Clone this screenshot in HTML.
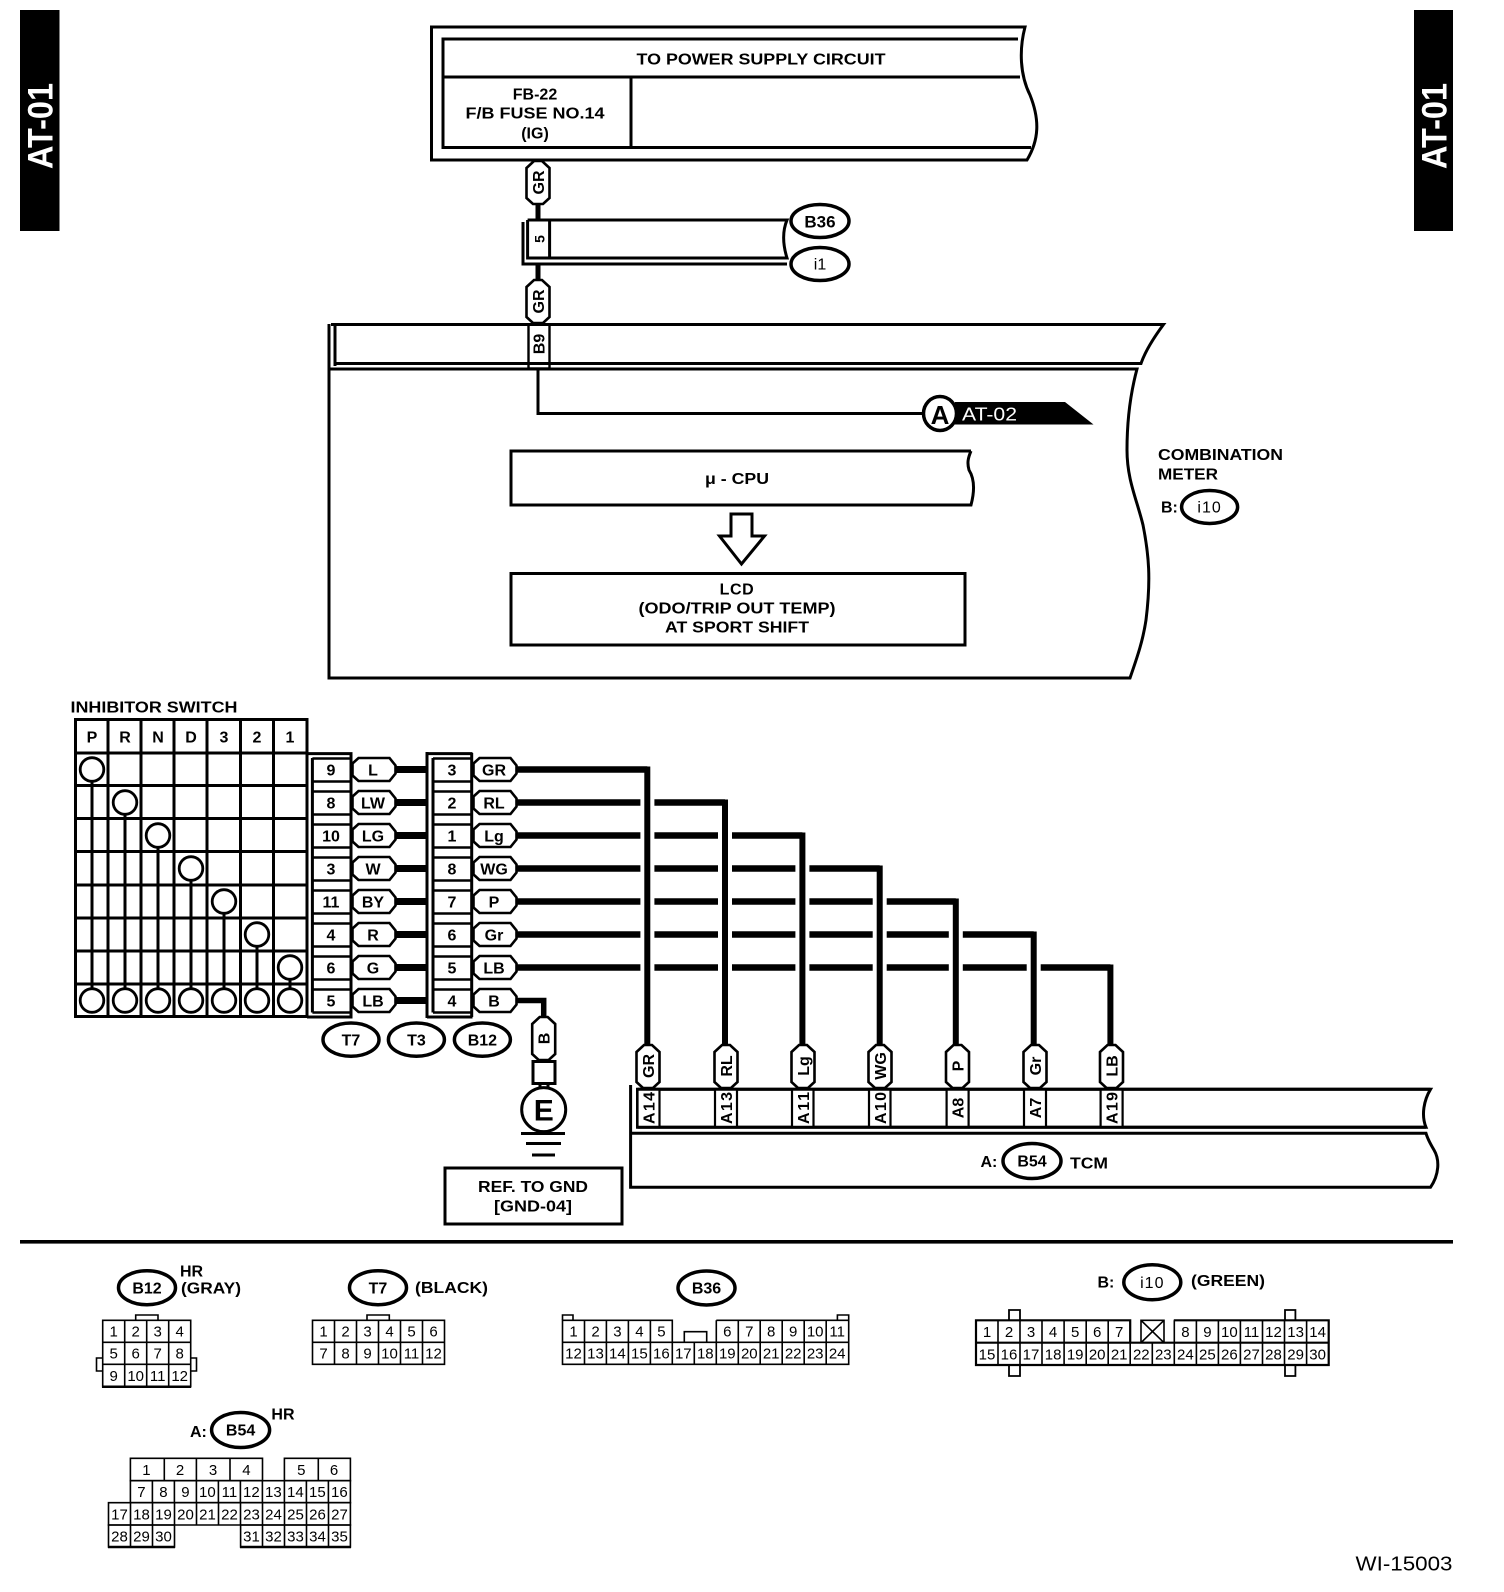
<!DOCTYPE html>
<html><head><meta charset="utf-8"><style>
html,body{margin:0;padding:0;background:#fff}
svg{display:block}
text{font-family:"Liberation Sans",sans-serif;font-weight:bold;font-size:16px;text-anchor:middle;dominant-baseline:central;fill:#000;translate:0 1px}
text[transform]{translate:1.5px 0}
.n{font-weight:normal;font-size:15px}
.l{text-anchor:start}
.w{fill:#fff}
.s{fill:none;stroke:#000;stroke-width:3}
.o{fill:#fff;stroke:#000;stroke-width:3}
ellipse.o{stroke-width:3.5}
.t{fill:none;stroke:#000;stroke-width:1.6}
.b{fill:none;stroke:#000;stroke-width:6.5}
</style></head><body>
<svg width="1504" height="1592" viewBox="0 0 1504 1592" xmlns="http://www.w3.org/2000/svg">
<defs>
<polygon id="ph" points="0,-6 6,-11.5 37,-11.5 43,-4 43,4 37,11.5 6,11.5 0,6" fill="#fff" stroke="#000" stroke-width="2.6"/>
<polygon id="pv" points="-4,0 4,0 11.500,7 11.500,37 5,43 -5,43 -11.500,37 -11.500,7" fill="#fff" stroke="#000" stroke-width="2.6"/>
<path id="pins" fill="none" stroke="#000" stroke-width="2.6" d="M0 758.5H39M0 781.5H39M0 791.5H39M0 814.5H39M0 824.5H39M0 847.5H39M0 857.5H39M0 880.5H39M0 890.5H39M0 913.5H39M0 923.5H39M0 946.5H39M0 956.5H39M0 979.5H39M0 989.5H39M0 1012.5H39"/>
<circle id="c" r="11.8" fill="#fff" stroke="#000" stroke-width="2.8"/>
</defs>

<!-- side bars -->
<rect x="20" y="10" width="39.5" height="221"/>
<rect x="1414" y="10" width="39" height="221"/>
<text class="w" x="39.5" y="126" transform="rotate(-90 39.5 126)" style="font-size:35px" textLength="86" lengthAdjust="spacingAndGlyphs">AT-01</text>
<text class="w" x="1433.5" y="126" transform="rotate(-90 1433.5 126)" style="font-size:35px" textLength="86" lengthAdjust="spacingAndGlyphs">AT-01</text>

<!-- power box -->
<path class="s" d="M431.5 27H1025C1019 50 1020 75 1030 95C1040 120 1039 140 1027 160H431.5Z"/>
<path class="s" d="M1018 39H443V147.5H1031M443 77H1020M631 77V147"/>
<text x="761" y="59" textLength="249" lengthAdjust="spacingAndGlyphs">TO POWER SUPPLY CIRCUIT</text>
<text x="535" y="94">FB-22</text>
<text x="535" y="113" textLength="139" lengthAdjust="spacingAndGlyphs">F/B FUSE NO.14</text>
<text x="535" y="133">(IG)</text>

<!-- GR / B36 -->
<path d="M538 204V220M538 264V281" fill="none" stroke="#000" stroke-width="5"/>
<use href="#pv" x="538" y="161"/>
<text x="538" y="182.500" transform="rotate(-90 538 182.500)">GR</text>
<path class="s" d="M527.600 220H787C782 232 783 245 787 258H527.600V220M549.600 220V258"/>
<path class="s" d="M523 222V264H787"/>
<text x="538" y="239" transform="rotate(-90 538 239)" style="font-size:14px">5</text>
<ellipse class="o" cx="820" cy="221" rx="29" ry="16.500"/>
<ellipse class="o" cx="820" cy="264" rx="29" ry="16.500"/>
<text x="820" y="221" style="font-size:17px">B36</text>
<text x="820" y="264" style="font-weight:normal">i1</text>
<use href="#pv" x="538" y="280"/>
<text x="538" y="301.500" transform="rotate(-90 538 301.500)">GR</text>

<!-- combination meter -->
<path class="s" d="M335 366V324.500H1163.500C1152 340 1145 352 1141 363.500H335"/>
<path class="s" d="M331 324.500H335"/>
<path class="s" d="M329 324V678H1130C1138 655 1143 640 1146 620C1151 580 1149 555 1143 525C1137 500 1127 480 1127 450C1127 420 1130 395 1137 369H329"/>
<rect x="528.500" y="324.500" width="21" height="44" fill="#fff" stroke="#000" stroke-width="2.400"/>
<path class="s" d="M335 363.500H1141M329 369H1137M331 324.500H1163"/>
<text x="538.500" y="344" transform="rotate(-90 538.500 344)">B9</text>
<path class="s" d="M538 369V413.500H926"/>
<polygon points="955,402 1065,402 1093.500,424.500 955,424.500"/>
<ellipse class="o" cx="940" cy="413.500" rx="16.500" ry="17"/>
<text x="940" y="414" style="font-size:26px">A</text>
<text class="w l" x="962" y="413.500" style="font-weight:normal;font-size:18px" textLength="55" lengthAdjust="spacingAndGlyphs">AT-02</text>
<path class="s" d="M971 451H511V505H971C975 490 974 478 969 470C967 463 968 458 971 451"/>
<text x="737" y="478.500" textLength="64" lengthAdjust="spacingAndGlyphs">μ - CPU</text>
<polygon class="o" points="731,514 752,514 752,536 764.500,536 741.500,564 719.500,536 731,536"/>
<rect class="s" x="511" y="573.500" width="454" height="71.500"/>
<text x="737" y="589" style="letter-spacing:.6px">LCD</text>
<text x="737" y="608" textLength="197" lengthAdjust="spacingAndGlyphs">(ODO/TRIP OUT TEMP)</text>
<text x="737" y="627" textLength="144" lengthAdjust="spacingAndGlyphs">AT SPORT SHIFT</text>
<text class="l" x="1158" y="454.500" textLength="125" lengthAdjust="spacingAndGlyphs">COMBINATION</text>
<text class="l" x="1158" y="474" textLength="60" lengthAdjust="spacingAndGlyphs">METER</text>
<text class="l" x="1161" y="507">B:</text>
<ellipse class="o" cx="1209.600" cy="507" rx="28" ry="16.500"/>
<text x="1209.600" y="507" style="font-weight:normal;letter-spacing:1px">i10</text>

<!-- inhibitor switch -->
<text class="l" x="70.500" y="707" textLength="167" lengthAdjust="spacingAndGlyphs">INHIBITOR SWITCH</text>
<path class="s" d="M75.500 719.500H307V1016.500H75.500ZM108 719.500V1016.500M141 719.500V1016.500M174 719.500V1016.500M207 719.500V1016.500M240.500 719.500V1016.500M273.500 719.500V1016.500M75.500 753H307M75.500 785.500H307M75.500 818.500H307M75.500 851.500H307M75.500 885H307M75.500 918H307M75.500 951H307M75.500 984H307"/>
<text x="92" y="737">P</text><text x="125" y="737">R</text><text x="158" y="737">N</text><text x="191" y="737">D</text><text x="224" y="737">3</text><text x="257" y="737">2</text><text x="290" y="737">1</text>
<path class="s" d="M92 769V1000M125 802V1000M158 835V1000M191 868V1000M224 901V1000M257 934V1000M290 967V1000"/>
<use href="#c" x="92" y="769.500"/><use href="#c" x="125" y="802.500"/><use href="#c" x="158" y="835.500"/><use href="#c" x="191" y="868.500"/><use href="#c" x="224" y="901.500"/><use href="#c" x="257" y="934.500"/><use href="#c" x="290" y="967.500"/>
<use href="#c" x="92" y="1000.500"/><use href="#c" x="125" y="1000.500"/><use href="#c" x="158" y="1000.500"/><use href="#c" x="191" y="1000.500"/><use href="#c" x="224" y="1000.500"/><use href="#c" x="257" y="1000.500"/><use href="#c" x="290" y="1000.500"/>

<!-- T7 / T3 blocks -->
<path class="s" d="M307 753.600H351V1017H307M312.400 758V1012.500M427 753.600H472.500M427 1017H472.500M427 752V1018M433 758V1012.500M471.700 753V1017"/>
<use href="#pins" x="312.400"/><use href="#pins" x="433"/>
<g fill="none" stroke="#000" stroke-width="7">
<path d="M395 769.500H428M395 802.500H428M395 835.500H428M395 868.500H428M395 901.500H428M395 934.500H428M395 967.500H428M395 1000.500H428"/>
</g>
<use href="#ph" x="352.500" y="769.500"/><use href="#ph" x="352.500" y="802.500"/><use href="#ph" x="352.500" y="835.500"/><use href="#ph" x="352.500" y="868.500"/><use href="#ph" x="352.500" y="901.500"/><use href="#ph" x="352.500" y="934.500"/><use href="#ph" x="352.500" y="967.500"/><use href="#ph" x="352.500" y="1000.500"/>
<use href="#ph" x="473.500" y="769.500"/><use href="#ph" x="473.500" y="802.500"/><use href="#ph" x="473.500" y="835.500"/><use href="#ph" x="473.500" y="868.500"/><use href="#ph" x="473.500" y="901.500"/><use href="#ph" x="473.500" y="934.500"/><use href="#ph" x="473.500" y="967.500"/><use href="#ph" x="473.500" y="1000.500"/>
<text x="331" y="770">9</text><text x="331" y="803">8</text><text x="331" y="836">10</text><text x="331" y="869">3</text><text x="331" y="902">11</text><text x="331" y="935">4</text><text x="331" y="968">6</text><text x="331" y="1001">5</text>
<text x="373" y="770">L</text><text x="373" y="803">LW</text><text x="373" y="836">LG</text><text x="373" y="869">W</text><text x="373" y="902">BY</text><text x="373" y="935">R</text><text x="373" y="968">G</text><text x="373" y="1001">LB</text>
<text x="452" y="770">3</text><text x="452" y="803">2</text><text x="452" y="836">1</text><text x="452" y="869">8</text><text x="452" y="902">7</text><text x="452" y="935">6</text><text x="452" y="968">5</text><text x="452" y="1001">4</text>
<text x="494" y="770">GR</text><text x="494" y="803">RL</text><text x="494" y="836">Lg</text><text x="494" y="869">WG</text><text x="494" y="902">P</text><text x="494" y="935">Gr</text><text x="494" y="968">LB</text><text x="494" y="1001">B</text>
<ellipse class="o" cx="351" cy="1039.600" rx="28" ry="16.600"/><text x="351" y="1040">T7</text>
<ellipse class="o" cx="416.400" cy="1039.600" rx="28" ry="16.600"/><text x="416.400" y="1040">T3</text>
<ellipse class="o" cx="482.400" cy="1039.600" rx="28" ry="16.600"/><text x="482.400" y="1040">B12</text>

<!-- ground -->
<path d="M516 1000.500H543.700V1018" fill="none" stroke="#000" stroke-width="5.500"/>
<use href="#pv" x="543.700" y="1017"/>
<text x="543.700" y="1038.500" transform="rotate(-90 543.700 1038.500)">B</text>
<rect class="s" x="533" y="1061.500" width="22" height="22"/>
<path class="s" d="M540 1084V1088M548 1084V1088"/>
<circle class="o" cx="543.700" cy="1109.600" r="22"/>
<text x="543.700" y="1110" style="font-size:30px">E</text>
<path class="s" d="M521 1133.500H565M526 1143.500H561M532 1155H555"/>
<rect class="s" x="445" y="1168" width="177" height="56"/>
<text x="533" y="1186.500" textLength="110" lengthAdjust="spacingAndGlyphs">REF. TO GND</text>
<text x="533" y="1206" textLength="78" lengthAdjust="spacingAndGlyphs">[GND-04]</text>

<!-- wires to TCM -->
<path class="b" d="M516 769.500H647.300M516 802.500H725M516 835.500H802.400M516 868.500H879.700M516 901.500H955.800M516 934.500H1033.700M516 967.500H1110.400"/>
<g fill="#fff">
<rect x="640.400" y="795" width="14" height="180"/>
<rect x="718" y="828" width="14" height="147"/>
<rect x="795.400" y="861" width="14" height="114"/>
<rect x="872.700" y="894" width="14" height="81"/>
<rect x="948.800" y="927" width="14" height="48"/>
<rect x="1026.700" y="960" width="14" height="15"/>
</g>
<g fill="none" stroke="#000" stroke-width="6">
<path d="M644 769.500H647.300V1046"/><path d="M722 802.500H725V1046"/><path d="M799 835.500H802.400V1046"/><path d="M876 868.500H879.700V1046"/><path d="M952 901.500H955.800V1046"/><path d="M1030 934.500H1033.700V1046"/><path d="M1106 967.500H1110.400V1046"/>
</g>

<!-- TCM -->
<path class="s" d="M630.600 1085V1187.300H1430.500C1439 1175 1440 1160 1434 1150C1431 1145 1428 1140 1426 1133.300H630.600"/>
<path class="s" d="M637.500 1089.300H1430.500C1424 1100 1421 1115 1426 1127.300H637.500Z"/>
<g fill="#fff" stroke="#000" stroke-width="2.200">
<rect x="637.500" y="1089.300" width="22" height="38"/><rect x="715" y="1089.300" width="22" height="38"/><rect x="792" y="1089.300" width="21.500" height="38"/><rect x="869" y="1089.300" width="21.500" height="38"/><rect x="946.600" y="1089.300" width="22" height="38"/><rect x="1024" y="1089.300" width="22" height="38"/><rect x="1100.600" y="1089.300" width="22" height="38"/>
</g>
<path class="s" d="M637.500 1089.300H1430.500M637.500 1127.300H1426"/>
<use href="#pv" x="648" y="1045"/><use href="#pv" x="726" y="1045"/><use href="#pv" x="803" y="1045"/><use href="#pv" x="880" y="1045"/><use href="#pv" x="957.500" y="1045"/><use href="#pv" x="1035" y="1045"/><use href="#pv" x="1111.500" y="1045"/>
<text x="648" y="1066" transform="rotate(-90 648 1066)">GR</text>
<text x="726" y="1066" transform="rotate(-90 726 1066)">RL</text>
<text x="803" y="1066" transform="rotate(-90 803 1066)">Lg</text>
<text x="880" y="1066" transform="rotate(-90 880 1066)">WG</text>
<text x="957.500" y="1066" transform="rotate(-90 957.500 1066)">P</text>
<text x="1035" y="1066" transform="rotate(-90 1035 1066)">Gr</text>
<text x="1111.500" y="1066" transform="rotate(-90 1111.500 1066)">LB</text>
<text x="648.500" y="1108" transform="rotate(-90 648.500 1108)" textLength="32" lengthAdjust="spacing">A14</text>
<text x="726" y="1108" transform="rotate(-90 726 1108)" textLength="32" lengthAdjust="spacing">A13</text>
<text x="803" y="1108" transform="rotate(-90 803 1108)" textLength="32" lengthAdjust="spacing">A11</text>
<text x="880" y="1108" transform="rotate(-90 880 1108)" textLength="32" lengthAdjust="spacing">A10</text>
<text x="957.500" y="1108" transform="rotate(-90 957.500 1108)">A8</text>
<text x="1035" y="1108" transform="rotate(-90 1035 1108)">A7</text>
<text x="1111.500" y="1108" transform="rotate(-90 1111.500 1108)" textLength="32" lengthAdjust="spacing">A19</text>
<text class="l" x="980.500" y="1161.500">A:</text>
<ellipse class="o" cx="1032" cy="1161" rx="29" ry="17.500"/>
<text x="1032" y="1161">B54</text>
<text class="l" x="1070" y="1163" textLength="38" lengthAdjust="spacingAndGlyphs">TCM</text>

<!-- divider -->
<rect x="20" y="1240" width="1433" height="3.600"/>

<!-- B12 connector -->
<ellipse class="o" cx="147" cy="1287.700" rx="28.500" ry="17"/><text x="147" y="1288">B12</text>
<text class="l" x="180" y="1271">HR</text>
<text class="l" x="181" y="1288" textLength="60" lengthAdjust="spacingAndGlyphs">(GRAY)</text>
<path class="t" d="M135.700 1320V1315H158V1320M102.700 1358H96.500V1371H102.700M191 1358H196.500V1371H191"/>
<path class="t" d="M102.700 1320.300H190.700V1386.700H102.700ZM124.700 1320.300V1386.700M146.700 1320.300V1386.700M168.700 1320.300V1386.700M102.700 1342.300H190.700M102.700 1364.300H190.700"/>
<path d="M102 1386.700H191" stroke="#000" stroke-width="2.500"/>
<g class="x">
<text class="n" x="113.700" y="1331">1</text><text class="n" x="135.700" y="1331">2</text><text class="n" x="157.700" y="1331">3</text><text class="n" x="179.700" y="1331">4</text>
<text class="n" x="113.700" y="1353">5</text><text class="n" x="135.700" y="1353">6</text><text class="n" x="157.700" y="1353">7</text><text class="n" x="179.700" y="1353">8</text>
<text class="n" x="113.700" y="1375.500">9</text><text class="n" x="135.700" y="1375.500">10</text><text class="n" x="157.700" y="1375.500">11</text><text class="n" x="179.700" y="1375.500">12</text>
</g>

<!-- T7 connector -->
<ellipse class="o" cx="378" cy="1287.700" rx="28.500" ry="17"/><text x="378" y="1288">T7</text>
<text class="l" x="415" y="1287.700" textLength="73" lengthAdjust="spacingAndGlyphs">(BLACK)</text>
<path class="t" d="M367 1320V1315H389.300V1320"/>
<path class="t" d="M312.500 1320.300H444.500V1364.300H312.500ZM334.500 1320.300V1364.300M356.500 1320.300V1364.300M378.500 1320.300V1364.300M400.500 1320.300V1364.300M422.500 1320.300V1364.300M312.500 1342.300H444.500"/>
<text class="n" x="323.500" y="1331">1</text><text class="n" x="345.500" y="1331">2</text><text class="n" x="367.500" y="1331">3</text><text class="n" x="389.500" y="1331">4</text><text class="n" x="411.500" y="1331">5</text><text class="n" x="433.500" y="1331">6</text>
<text class="n" x="323.500" y="1353">7</text><text class="n" x="345.500" y="1353">8</text><text class="n" x="367.500" y="1353">9</text><text class="n" x="389.500" y="1353">10</text><text class="n" x="411.500" y="1353">11</text><text class="n" x="433.500" y="1353">12</text>

<!-- B36 connector -->
<ellipse class="o" cx="706.500" cy="1288" rx="28.500" ry="17"/><text x="706.500" y="1288">B36</text>
<path class="t" d="M562.500 1320V1315H573V1320M837.400 1320V1315H848.700V1320M684.300 1342V1331.700H706.700V1342"/>
<path class="t" d="M562.500 1320.300H672.300V1342.300H562.500ZM716.300 1320.300H848.700V1364.300H562.500V1342.300H848.700M584.500 1320.300V1364.300M606.400 1320.300V1364.300M628.400 1320.300V1364.300M650.400 1320.300V1364.300M672.300 1320.300V1364.300M694.300 1342.300V1364.300M716.300 1320.300V1364.300M738.300 1320.300V1364.300M760.200 1320.300V1364.300M782.200 1320.300V1364.300M804.200 1320.300V1364.300M826.200 1320.300V1364.300"/>
<text class="n" x="573.500" y="1331">1</text><text class="n" x="595.500" y="1331">2</text><text class="n" x="617.400" y="1331">3</text><text class="n" x="639.400" y="1331">4</text><text class="n" x="661.400" y="1331">5</text><text class="n" x="727.300" y="1331">6</text><text class="n" x="749.300" y="1331">7</text><text class="n" x="771.200" y="1331">8</text><text class="n" x="793.200" y="1331">9</text><text class="n" x="815.200" y="1331">10</text><text class="n" x="837.200" y="1331">11</text>
<text class="n" x="573.500" y="1353">12</text><text class="n" x="595.500" y="1353">13</text><text class="n" x="617.400" y="1353">14</text><text class="n" x="639.400" y="1353">15</text><text class="n" x="661.400" y="1353">16</text><text class="n" x="683.300" y="1353">17</text><text class="n" x="705.300" y="1353">18</text><text class="n" x="727.300" y="1353">19</text><text class="n" x="749.300" y="1353">20</text><text class="n" x="771.200" y="1353">21</text><text class="n" x="793.200" y="1353">22</text><text class="n" x="815.200" y="1353">23</text><text class="n" x="837.200" y="1353">24</text>

<!-- i10 connector -->
<text class="l" x="1097.500" y="1282">B:</text>
<ellipse class="o" cx="1152.300" cy="1282.300" rx="28.500" ry="17.500"/>
<text x="1152.300" y="1282.300" style="font-weight:normal;letter-spacing:1px">i10</text>
<text class="l" x="1191" y="1280.700" textLength="74" lengthAdjust="spacingAndGlyphs">(GREEN)</text>
<path d="M1009 1320V1310H1020V1320M1285 1320V1310H1295.400V1320M1009 1365V1376H1020V1365M1285 1365V1376H1295.400V1365" fill="none" stroke="#000" stroke-width="1.800"/>
<path class="t" d="M998 1320.300V1365M1020 1320.300V1365M1042 1320.300V1365M1064.100 1320.300V1365M1086.200 1320.300V1365M1108.200 1320.300V1365M1130.200 1320.300V1365M1152.300 1342.700V1365M1174.300 1320.300V1365M1196.400 1320.300V1365M1218.400 1320.300V1365M1240.400 1320.300V1365M1262.500 1320.300V1365M1284.500 1320.300V1365M1306.600 1320.300V1365"/>
<path d="M976 1320.300H1130.200V1342.700H976ZM1173.800 1320.300H1328.700V1365H976V1342.700H1328.700" fill="none" stroke="#000" stroke-width="2.200"/>
<path class="t" d="M1141 1320.300H1164V1342.700H1141ZM1141 1320.300L1164 1342.700M1164 1320.300L1141 1342.700"/>
<text class="n" x="987" y="1331.500">1</text><text class="n" x="1009" y="1331.500">2</text><text class="n" x="1031" y="1331.500">3</text><text class="n" x="1053.100" y="1331.500">4</text><text class="n" x="1075.200" y="1331.500">5</text><text class="n" x="1097.200" y="1331.500">6</text><text class="n" x="1119.200" y="1331.500">7</text><text class="n" x="1185.400" y="1331.500">8</text><text class="n" x="1207.400" y="1331.500">9</text><text class="n" x="1229.400" y="1331.500">10</text><text class="n" x="1251.500" y="1331.500">11</text><text class="n" x="1273.500" y="1331.500">12</text><text class="n" x="1295.600" y="1331.500">13</text><text class="n" x="1317.600" y="1331.500">14</text>
<text class="n" x="987" y="1354">15</text><text class="n" x="1009" y="1354">16</text><text class="n" x="1031" y="1354">17</text><text class="n" x="1053.100" y="1354">18</text><text class="n" x="1075.200" y="1354">19</text><text class="n" x="1097.200" y="1354">20</text><text class="n" x="1119.200" y="1354">21</text><text class="n" x="1141.300" y="1354">22</text><text class="n" x="1163.300" y="1354">23</text><text class="n" x="1185.400" y="1354">24</text><text class="n" x="1207.400" y="1354">25</text><text class="n" x="1229.400" y="1354">26</text><text class="n" x="1251.500" y="1354">27</text><text class="n" x="1273.500" y="1354">28</text><text class="n" x="1295.600" y="1354">29</text><text class="n" x="1317.600" y="1354">30</text>

<!-- B54 connector -->
<text class="l" x="190" y="1431.700">A:</text>
<ellipse class="o" cx="240.600" cy="1430" rx="29" ry="17.500"/><text x="240.600" y="1430">B54</text>
<text class="l" x="271.400" y="1414">HR</text>
<path class="t" d="M130.400 1458.300H262.500V1480.700H130.400ZM284.400 1458.300H350.400V1480.700H284.400ZM164.300 1458.300V1480.700M196.400 1458.300V1480.700M230 1458.300V1480.700M318.300 1458.300V1480.700"/>
<path class="t" d="M130.400 1480.700H350.400V1502.700H130.400ZM152.400 1480.700V1502.700M174.400 1480.700V1502.700M196.400 1480.700V1502.700M218.400 1480.700V1502.700M240.400 1480.700V1502.700M262.400 1480.700V1502.700M284.400 1480.700V1502.700M306.400 1480.700V1502.700M328.400 1480.700V1502.700"/>
<path class="t" d="M108.500 1502.700H350.400V1525H108.500ZM130.500 1502.700V1525M152.500 1502.700V1525M174.500 1502.700V1525M196.500 1502.700V1525M218.500 1502.700V1525M240.500 1502.700V1525M262.500 1502.700V1525M284.500 1502.700V1525M306.500 1502.700V1525M328.500 1502.700V1525"/>
<path class="t" d="M108.500 1525H174.500V1547H108.500ZM130.500 1525V1547M152.500 1525V1547M240.600 1525H350.400V1547H240.600ZM262.500 1525V1547M284.500 1525V1547M306.500 1525V1547M328.500 1525V1547"/>
<path d="M108 1547H175M240 1547H351" stroke="#000" stroke-width="2.500"/>
<text class="n" x="146.400" y="1469.500">1</text><text class="n" x="180" y="1469.500">2</text><text class="n" x="213" y="1469.500">3</text><text class="n" x="246.400" y="1469.500">4</text><text class="n" x="301.300" y="1469.500">5</text><text class="n" x="334" y="1469.500">6</text>
<text class="n" x="141.400" y="1491.700">7</text><text class="n" x="163.400" y="1491.700">8</text><text class="n" x="185.400" y="1491.700">9</text><text class="n" x="207.400" y="1491.700">10</text><text class="n" x="229.400" y="1491.700">11</text><text class="n" x="251.400" y="1491.700">12</text><text class="n" x="273.400" y="1491.700">13</text><text class="n" x="295.400" y="1491.700">14</text><text class="n" x="317.400" y="1491.700">15</text><text class="n" x="339.400" y="1491.700">16</text>
<text class="n" x="119.500" y="1514">17</text><text class="n" x="141.500" y="1514">18</text><text class="n" x="163.500" y="1514">19</text><text class="n" x="185.500" y="1514">20</text><text class="n" x="207.500" y="1514">21</text><text class="n" x="229.500" y="1514">22</text><text class="n" x="251.500" y="1514">23</text><text class="n" x="273.500" y="1514">24</text><text class="n" x="295.500" y="1514">25</text><text class="n" x="317.500" y="1514">26</text><text class="n" x="339.500" y="1514">27</text>
<text class="n" x="119.500" y="1536">28</text><text class="n" x="141.500" y="1536">29</text><text class="n" x="163.500" y="1536">30</text><text class="n" x="251.500" y="1536">31</text><text class="n" x="273.500" y="1536">32</text><text class="n" x="295.500" y="1536">33</text><text class="n" x="317.500" y="1536">34</text><text class="n" x="339.500" y="1536">35</text>

<text class="l" x="1355.500" y="1563.500" style="font-weight:normal;font-size:20px" textLength="97" lengthAdjust="spacingAndGlyphs">WI-15003</text>
</svg>
</body></html>
